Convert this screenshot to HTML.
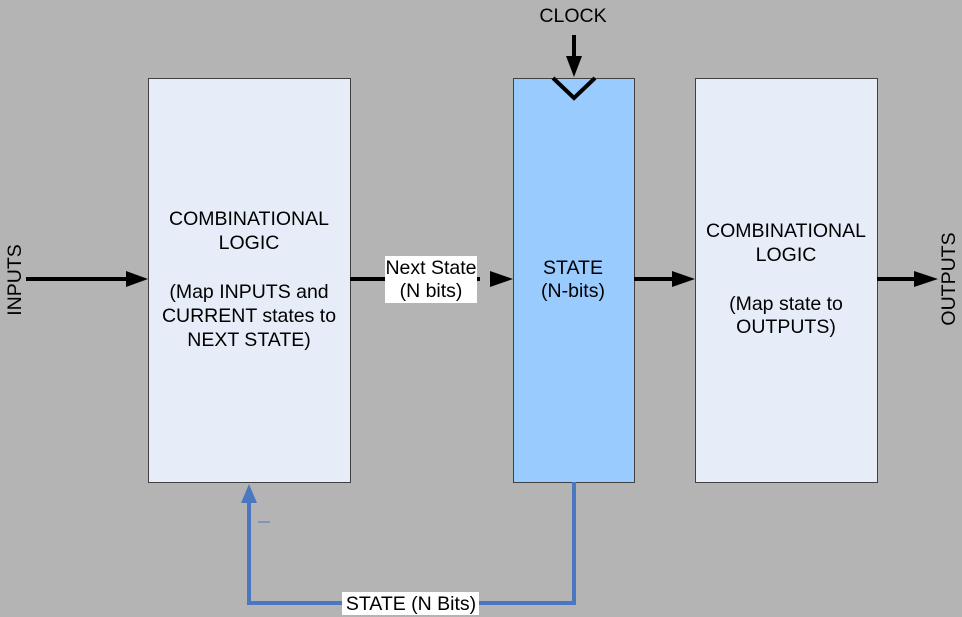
<!DOCTYPE html>
<html><head><meta charset="utf-8"><style>
html,body{margin:0;padding:0;background:#b4b4b4;}
svg{display:block;font-family:"Liberation Sans",Arial,sans-serif;}
</style></head><body>
<svg width="962" height="617" viewBox="0 0 962 617" xmlns="http://www.w3.org/2000/svg">
<rect width="962" height="617" fill="#b4b4b4"/>
<rect x="148.5" y="78.5" width="202" height="404" fill="#e6edf8" stroke="#404040" stroke-width="1"/>
<rect x="513.5" y="78.5" width="121" height="404" fill="#99cbff" stroke="#404040" stroke-width="1"/>
<rect x="695.5" y="78.5" width="182" height="404" fill="#e6edf8" stroke="#404040" stroke-width="1"/>
<g stroke="#000" stroke-width="4" fill="none">
<line x1="26" y1="279" x2="130" y2="279"/>
<line x1="350" y1="279" x2="480" y2="279"/>
<line x1="634" y1="279" x2="677" y2="279"/>
<line x1="877" y1="279" x2="920" y2="279"/>
<line x1="574" y1="35" x2="574" y2="60"/>
<polyline points="553,78 574,98 595,78"/>
</g>
<g fill="#000">
<polygon points="126,271 148,279 126,287"/>
<polygon points="490,271 513,279 490,287"/>
<polygon points="672,271 695,279 672,287"/>
<polygon points="914,271 938,279 914,287"/>
<polygon points="566,56 574,77 582,56"/>
</g>
<polyline points="574,482 574,603 249,603 249,500" fill="none" stroke="#4a78c0" stroke-width="4"/>
<polygon points="241,503 249,484 257,503" fill="#4a78c0"/>
<line x1="258" y1="522" x2="270" y2="522" stroke="#4a78c0" stroke-width="1"/>
<rect x="385" y="256" width="92" height="47" fill="#fff"/>
<rect x="342" y="592" width="137" height="23" fill="#fff"/>
<g font-size="19.5" text-anchor="middle" fill="#000">
<text x="573" y="22">CLOCK</text>
<text x="431" y="274">Next State</text>
<text x="431" y="297">(N bits)</text>
<text x="573" y="274">STATE</text>
<text x="573" y="297">(N-bits)</text>
<text x="411" y="610">STATE (N Bits)</text>
<text x="249" y="225">COMBINATIONAL</text>
<text x="249" y="249">LOGIC</text>
<text x="249" y="298">(Map INPUTS and</text>
<text x="249" y="322">CURRENT states to</text>
<text x="249" y="346">NEXT STATE)</text>
<text x="786" y="237">COMBINATIONAL</text>
<text x="786" y="261">LOGIC</text>
<text x="786" y="310">(Map state to</text>
<text x="786" y="333">OUTPUTS)</text>
<text x="0" y="0" transform="translate(21,280) rotate(-90)">INPUTS</text>
<text x="0" y="0" transform="translate(955,279) rotate(-90)">OUTPUTS</text>
</g>
</svg>
</body></html>
